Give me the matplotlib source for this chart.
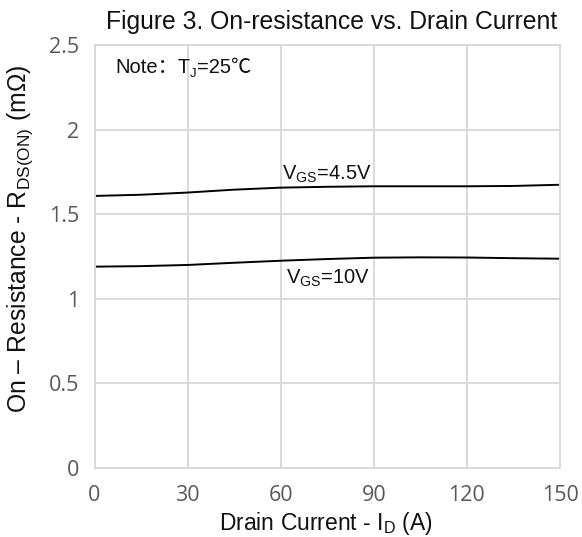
import matplotlib
matplotlib.use("Agg")
import matplotlib.pyplot as plt

# Data
current_a = [0, 15, 30, 45, 60, 75, 90, 105, 120, 135, 150]
rds_vgs45 = [1.608, 1.615, 1.628, 1.645, 1.657, 1.662, 1.665, 1.665, 1.665, 1.667, 1.674]
rds_vgs10 = [1.190, 1.193, 1.200, 1.213, 1.225, 1.235, 1.243, 1.245, 1.244, 1.240, 1.237]
x_ticks = [0, 30, 60, 90, 120, 150]
y_ticks = [0, 0.5, 1, 1.5, 2, 2.5]
y_tick_labels = ["0", "0.5", "1", "1.5", "2", "2.5"]

plt.rcParams['mathtext.fontset'] = 'custom'
plt.rcParams['mathtext.rm'] = 'Liberation Sans'
plt.rcParams['mathtext.it'] = 'Liberation Sans'
plt.rcParams['mathtext.bf'] = 'Liberation Sans'

W, H = 582, 537
fig = plt.figure(figsize=(W/100, H/100), dpi=100)
ax = fig.add_axes([94.5/W, 1 - 468/H, (560-94.5)/W, (468-45)/H])

def fx(px):
    return px / W

def fy(py):
    return 1 - py / H

grid_c = '#d9d9d9'
ax.plot(current_a, rds_vgs45, color='black', lw=1.4)
ax.plot(current_a, rds_vgs10, color='black', lw=1.4)

ax.set_xlim(0, 150)
ax.set_ylim(0, 2.5)
ax.set_xticks(x_ticks)
ax.set_yticks(y_ticks)
ax.set_yticklabels(y_tick_labels)
ax.grid(True, color=grid_c, lw=1.4)
ax.set_axisbelow(True)
for s in ax.spines.values():
    s.set_color(grid_c)
    s.set_linewidth(1.4)
ax.tick_params(length=0, labelsize=15.5, labelcolor='#595959', pad=11)
ax.tick_params(axis='x', pad=12)
for lab in ax.get_xticklabels() + ax.get_yticklabels():
    lab.set_fontfamily('Open Sans')

txt_c = '#111111'
fig.text(fx(331.5), fy(28.5), 'Figure 3. On-resistance vs. Drain Current', fontsize=17.8,
         family='Liberation Sans', ha='center', va='baseline', color=txt_c)

fig.text(fx(326), fy(530), r'Drain Current - I$_{\mathrm{D}}$ (A)', fontsize=16.5,
         family='Liberation Sans', ha='center', va='baseline', color=txt_c)
fig.text(fx(20), fy(239), r'On – Resistance - R$_{\mathrm{DS(ON)}}$ (m$\Omega$)', fontsize=17.8,
         family='Liberation Sans', ha='center', va='center', rotation=90, color=txt_c)

fig.text(fx(327), fy(179.3), r'V$_{\mathrm{GS}}$=4.5V', fontsize=14.5, family='Liberation Sans',
         ha='center', va='baseline', color=txt_c)
fig.text(fx(328), fy(283.3), r'V$_{\mathrm{GS}}$=10V', fontsize=14.5, family='Liberation Sans',
         ha='center', va='baseline', color=txt_c)

# Note text built from pieces (CJK punctuation needs a fallback font)
fam = ['Liberation Sans', 'Noto Sans CJK SC']
fig.canvas.draw()
r = fig.canvas.get_renderer()
x0 = 115.0
base = 73.3
pieces = [('Note：T', 14.5, 0.0), ('J', 9.5, 4.0), ('=25℃', 14.5, 0.0)]
for s, size, dy in pieces:
    t = fig.text(fx(x0), fy(base + dy), s, fontsize=size, family=fam,
                 ha='left', va='baseline', color=txt_c)
    bb = t.get_window_extent(renderer=r)
    x0 += bb.width

fig.savefig('out.png', dpi=100)
